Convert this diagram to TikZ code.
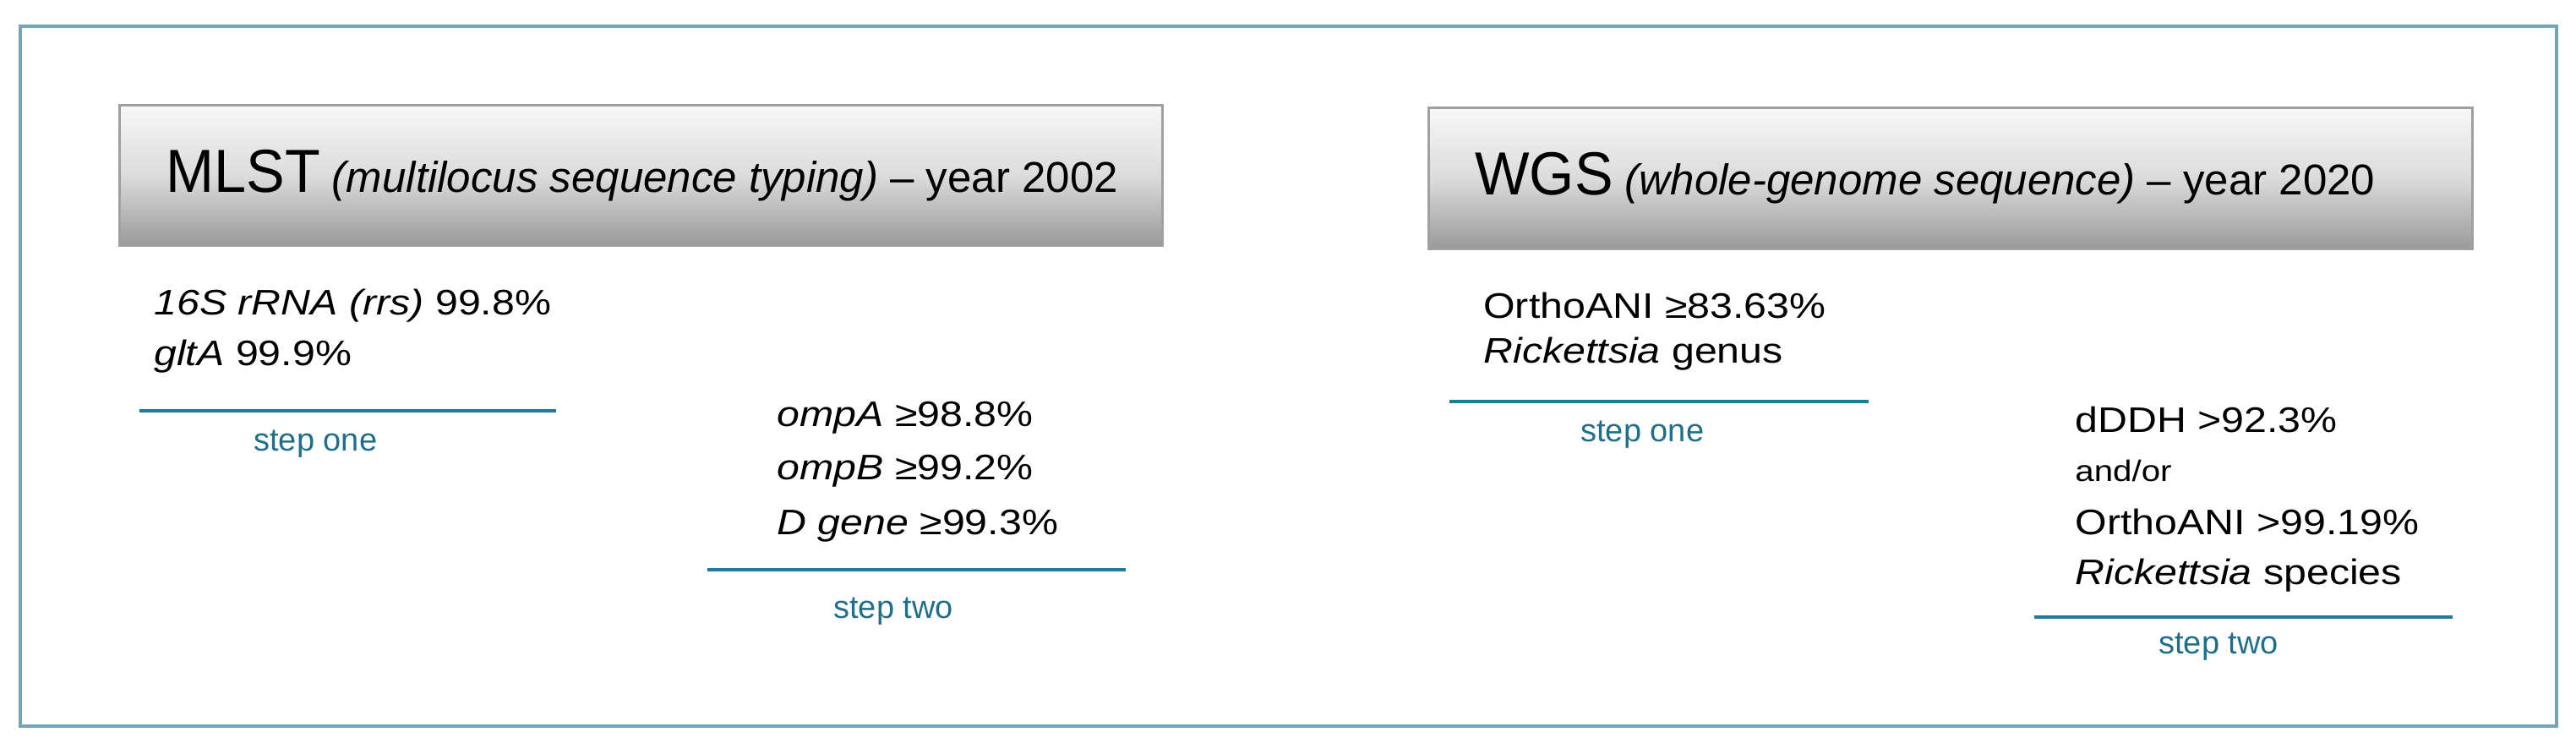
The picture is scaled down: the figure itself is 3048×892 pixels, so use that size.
\documentclass[tikz,border=0pt]{standalone}
\usepackage{fontspec}
\setmainfont{Liberation Sans}[FakeStretch=1.15]
\newfontfamily\hdrfont{Liberation Sans}
\newfontfamily\hdrbigfont{Liberation Sans}[FakeStretch=0.95]
\newfontfamily\stepfont{Liberation Sans}
\definecolor{framec}{HTML}{77A3B8}
\definecolor{rulec}{HTML}{1E7B9C}
\definecolor{stepc}{HTML}{1F6F8B}
\definecolor{boxedge}{HTML}{A0A0A0}
\tikzset{
  hdrbox/.style={draw=boxedge, line width=1.5pt, top color=black!3, bottom color=black!40, middle color=black!14, inner sep=0pt},
  body/.style={anchor=base west, inner sep=0pt, font=\fontsize{21}{25}\selectfont},
  small/.style={anchor=base west, inner sep=0pt, font=\fontsize{17.5}{21}\selectfont},
  steplbl/.style={anchor=base west, inner sep=0pt, text=stepc, font=\stepfont\fontsize{19}{22}\selectfont},
  hdr/.style={anchor=base west, inner sep=0pt, font=\hdrfont},
  steprule/.style={draw=rulec, line width=2pt},
  framebox/.style={draw=framec, line width=2pt}
}
\newcommand{\hbig}{\hdrbigfont\fontsize{36}{42}\selectfont}
\newcommand{\hsmall}{\hdrfont\fontsize{25.5}{30}\selectfont}
\begin{document}
\begin{tikzpicture}[x=0.5pt,y=-0.5pt]
\useasboundingbox (0,0) rectangle (3048,892);
% outer frame
\path[framebox] (24,31) rectangle (3025,859);
% header boxes
\node (mlstbox) [hdrbox, minimum width=617pt, minimum height=83pt] at (758,208) {};
\node (wgsbox) [hdrbox, minimum width=617.5pt, minimum height=83.5pt] at (2307.5,211.5) {};
\node (mlsthdr) [hdr] at (196,228) {\hbig MLST\hsmall\ \textit{(multilocus sequence typing)} – year 2002};
\node (wgshdr) [hdr] at (1745,231) {\hbig WGS\hsmall\ \textit{(whole-genome sequence)} – year 2020};
% left, step one
\node (rrs) [body] at (182,373) {\textit{16S rRNA (rrs)} 99.8\%};
\node (glta) [body] at (182,433) {\textit{gltA} 99.9\%};
\coordinate (r1a) at (165,486);
\coordinate (r1b) at (658,486);
\draw[steprule] (r1a) -- (r1b);
\node (s1l) [steplbl] at (300,534) {step one};
% left, step two
\node (ompa) [body] at (919,505) {\textit{ompA} ≥98.8\%};
\node (ompb) [body] at (919,568) {\textit{ompB} ≥99.2\%};
\node (dgene) [body] at (919,633) {\textit{D gene} ≥99.3\%};
\coordinate (r2a) at (837,674);
\coordinate (r2b) at (1332,674);
\draw[steprule] (r2a) -- (r2b);
\node (s2l) [steplbl] at (986,732) {step two};
% right, step one
\node (ani1) [body] at (1755,377) {OrthoANI ≥83.63\%};
\node (genus) [body] at (1755,430) {\textit{Rickettsia} genus};
\coordinate (r3a) at (1715,475);
\coordinate (r3b) at (2211,475);
\draw[steprule] (r3a) -- (r3b);
\node (s1r) [steplbl] at (1870,523) {step one};
% right, step two
\node (ddh) [body] at (2455,512) {dDDH >92.3\%};
\node (andor) [small] at (2455,570) {and/or};
\node (ani2) [body] at (2455,633) {OrthoANI >99.19\%};
\node (species) [body] at (2455,692) {\textit{Rickettsia} species};
\coordinate (r4a) at (2407,730);
\coordinate (r4b) at (2902,730);
\draw[steprule] (r4a) -- (r4b);
\node (s2r) [steplbl] at (2554,773) {step two};
\end{tikzpicture}
\end{document}
